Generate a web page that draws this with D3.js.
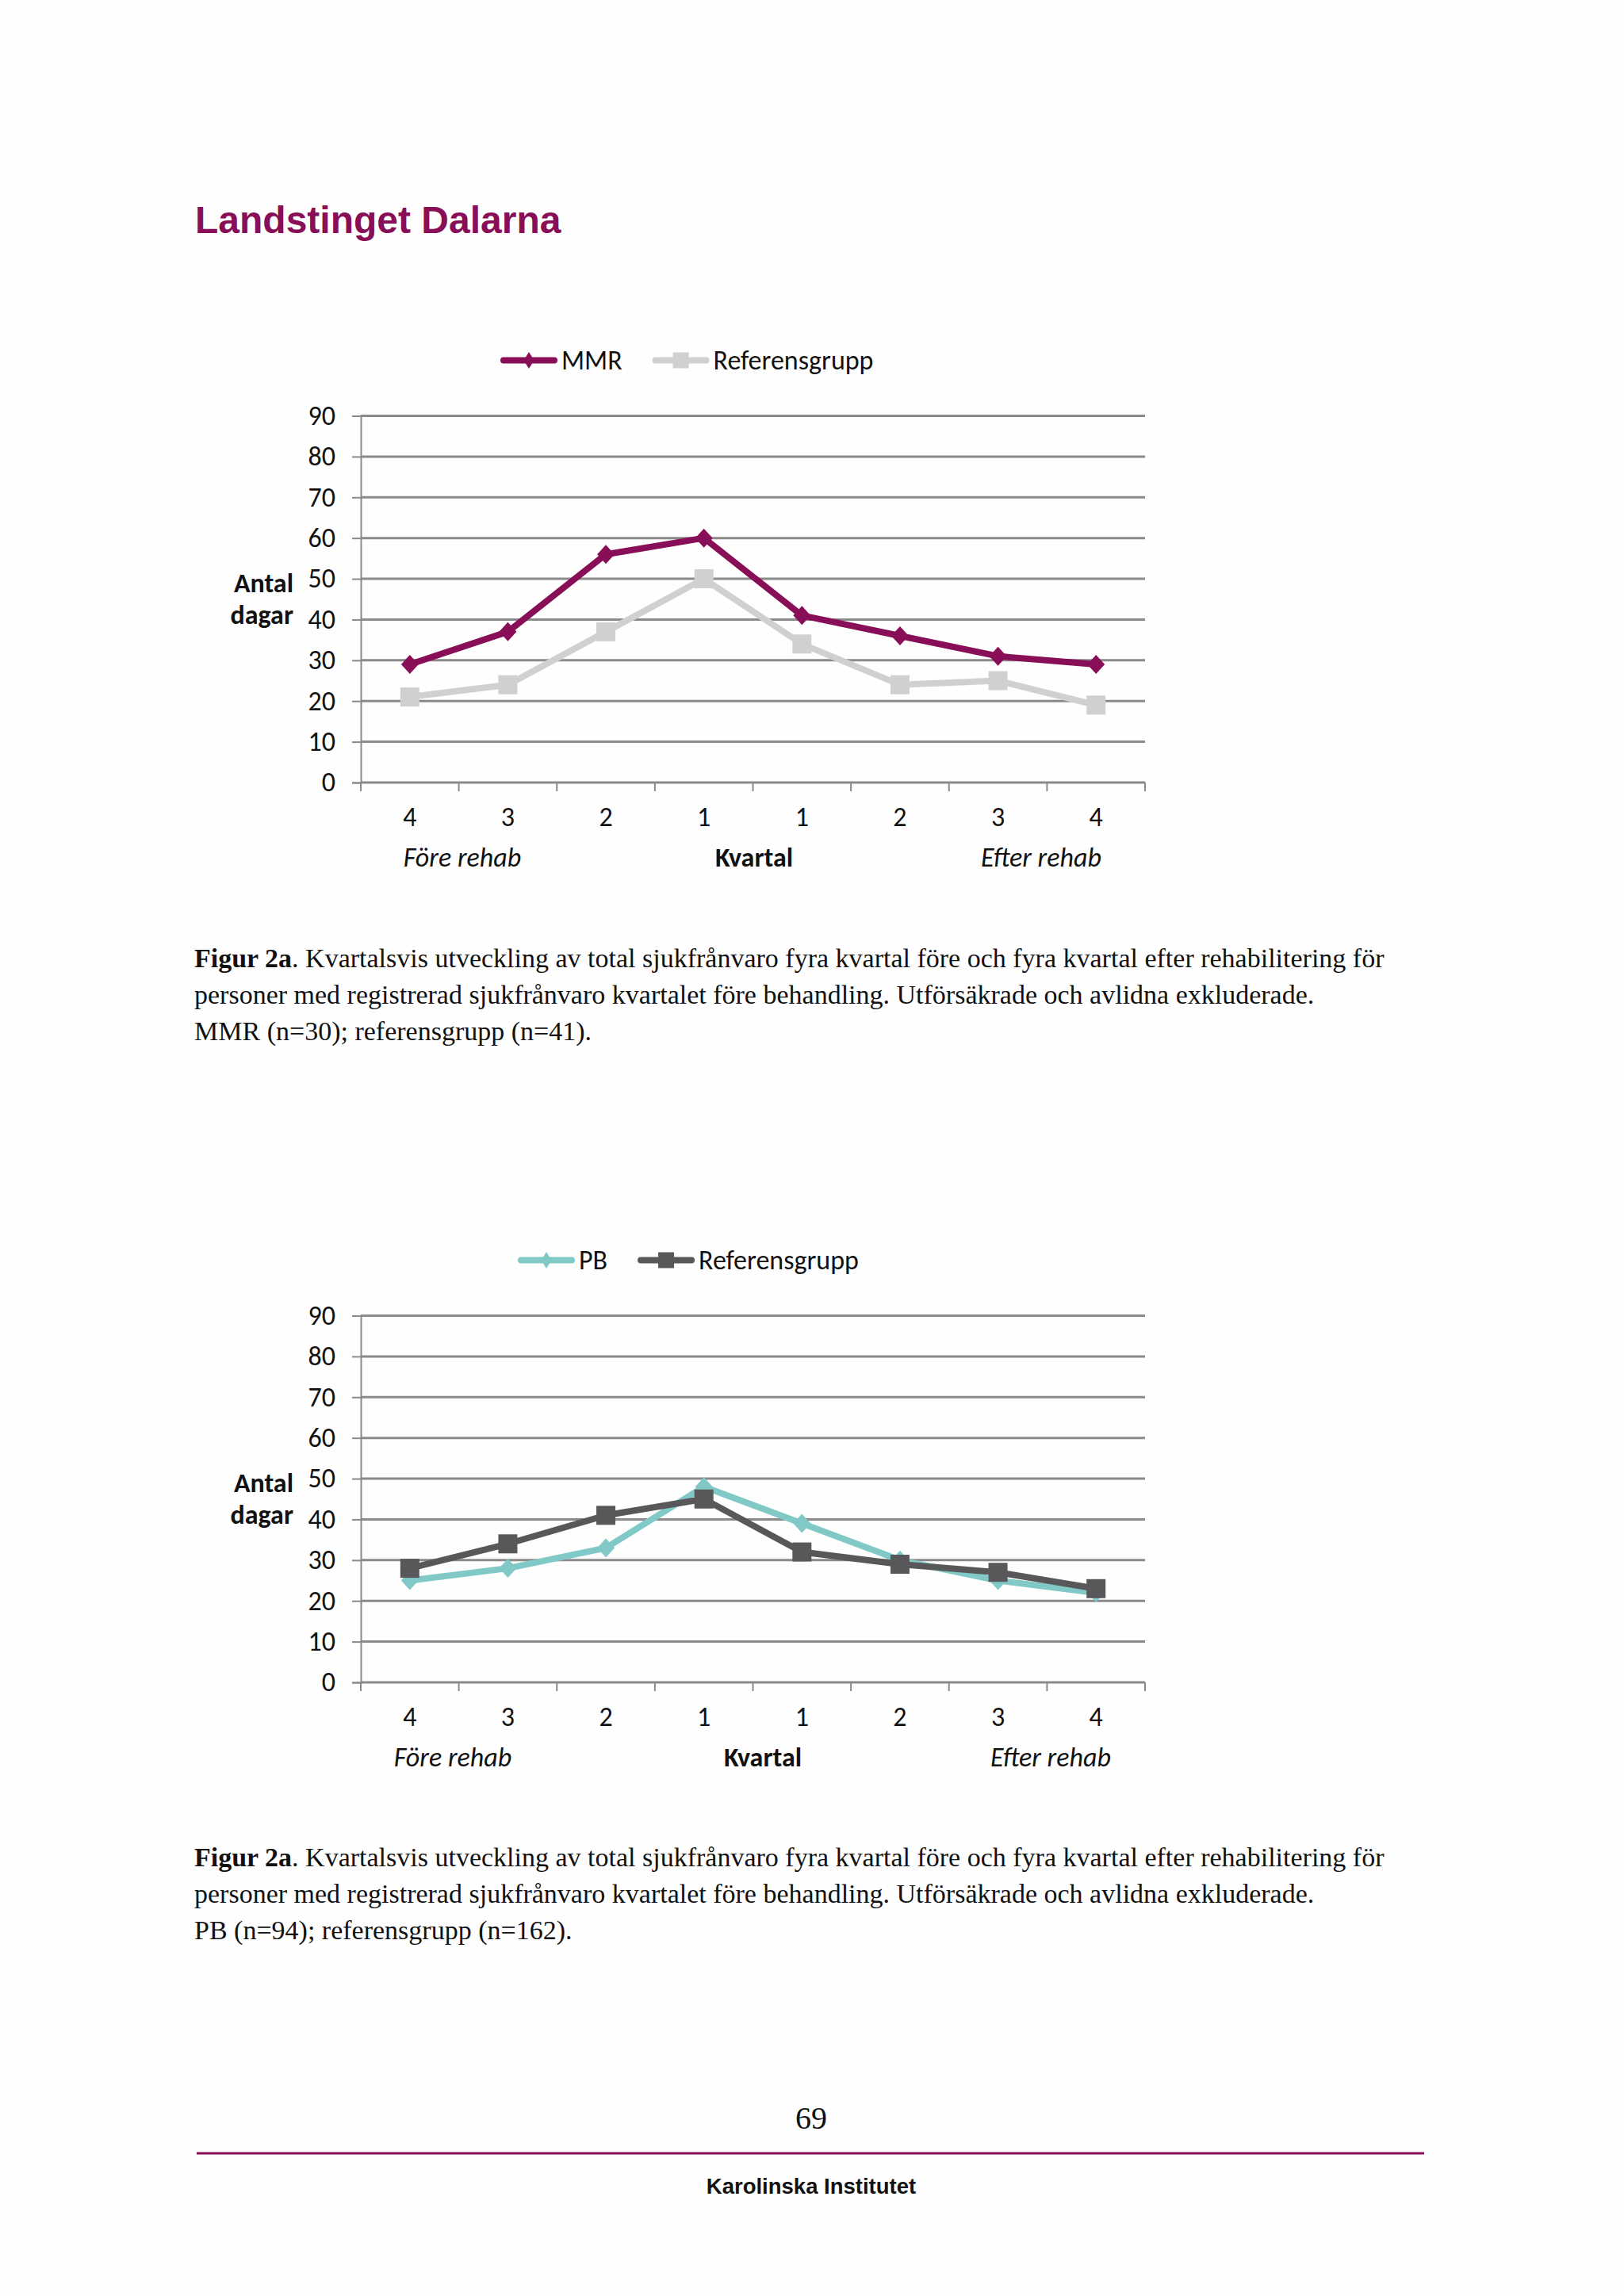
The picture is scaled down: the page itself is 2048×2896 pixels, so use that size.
<!DOCTYPE html>
<html>
<head>
<meta charset="utf-8">
<script src="https://cdn.jsdelivr.net/npm/d3@7"></script>
<style>
  body { margin: 0; background: #ffffff; }
  svg { display: block; }
</style>
</head>
<body>
<svg id="page"></svg>
<script>
// quarters before (F) and after (E) rehab
const quarterKeys = ["F4", "F3", "F2", "F1", "E1", "E2", "E3", "E4"];
const quarterLabels = ["4", "3", "2", "1", "1", "2", "3", "4"];
const yTicks = [0, 10, 20, 30, 40, 50, 60, 70, 80, 90];

// chart 1
const mmrValues = [29, 37, 56, 60, 41, 36, 31, 29];
const mmrRefValues = [21, 24, 37, 50, 34, 24, 25, 19];
// chart 2
const pbValues = [25, 28, 33, 48, 39, 30, 25, 22];
const pbRefValues = [28, 34, 41, 45, 32, 29, 27, 23];

const W = 2048, H = 2896;
const svg = d3.select("#page").attr("width", W).attr("height", H);
svg.append("rect").attr("width", W).attr("height", H).attr("fill", "#fefefe");

const sans = "Carlito, Lato, 'Open Sans', sans-serif";
const serif = "'Liberation Serif', 'DejaVu Serif', serif";
const arial = "'Liberation Sans', Arial, sans-serif";
const accent = "#880e57";
const fs = 34;

svg.append("text")
  .attr("x", 246).attr("y", 294)
  .attr("font-family", arial).attr("font-weight", "bold")
  .attr("font-size", 48).attr("fill", accent)
  .text("Landstinget Dalarna");

const xScale = d3.scaleBand()
  .domain(quarterKeys)
  .range([455, 1444]);

const diamond = (w, h) => `M0,${-h / 2}L${w / 2},0L0,${h / 2}L${-w / 2},0Z`;
const square = s => `M${-s / 2},${-s / 2}h${s}v${s}h${-s}Z`;

const drawChart = (top, series, legendX) => {
  // top = y position of the 90 gridline
  const g = svg.append("g");
  const yScale = d3.scaleLinear()
    .domain([0, 90])
    .range([top + 462.5, top]);

  /* gridlines + y axis */
  const yAxis = d3.axisLeft(yScale)
    .tickValues(yTicks)
    .tickSize(11)
    .tickPadding(21);
  const ya = g.append("g")
    .attr("transform", `translate(${xScale.range()[0]},0)`)
    .call(yAxis);
  ya.select(".domain").attr("stroke", "#8a8a8a").attr("stroke-width", 2);
  ya.selectAll(".tick line").attr("stroke", "#8a8a8a").attr("stroke-width", 2);
  ya.selectAll(".tick text")
    .attr("font-family", sans).attr("font-size", fs).attr("fill", "#111");

  g.append("g")
    .selectAll("line")
    .data(yTicks)
    .join("line")
      .attr("x1", xScale.range()[0])
      .attr("x2", xScale.range()[1])
      .attr("y1", d => yScale(d))
      .attr("y2", d => yScale(d))
      .attr("stroke", "#8a8a8a")
      .attr("stroke-width", 3);

  /* x axis: ticks between categories */
  const boundaries = d3.range(quarterKeys.length + 1)
    .map(i => xScale.range()[0] + i * xScale.step());
  g.append("g")
    .selectAll("line")
    .data(boundaries)
    .join("line")
      .attr("x1", d => d).attr("x2", d => d)
      .attr("y1", yScale(0)).attr("y2", yScale(0) + 11)
      .attr("stroke", "#8a8a8a").attr("stroke-width", 2);

  g.append("g")
    .selectAll("text")
    .data(quarterKeys)
    .join("text")
      .attr("x", d => xScale(d) + xScale.bandwidth() / 2)
      .attr("y", yScale(0) + 55)
      .attr("text-anchor", "middle")
      .attr("font-family", sans).attr("font-size", fs).attr("fill", "#111")
      .text((d, i) => quarterLabels[i]);

  /* axis titles */
  const axisText = g.append("g")
    .attr("font-family", sans).attr("font-size", fs).attr("fill", "#111");
  axisText.append("text")
    .attr("x", 370).attr("y", yScale(0) - 240)
    .attr("text-anchor", "end").attr("font-weight", "bold")
    .text("Antal");
  axisText.append("text")
    .attr("x", 370).attr("y", yScale(0) - 200)
    .attr("text-anchor", "end").attr("font-weight", "bold")
    .text("dagar");
  axisText.append("text")
    .attr("x", series.labelX[0]).attr("y", yScale(0) + 106)
    .attr("text-anchor", "middle").attr("font-style", "italic")
    .text("Före rehab");
  axisText.append("text")
    .attr("x", series.labelX[1]).attr("y", yScale(0) + 106)
    .attr("text-anchor", "middle").attr("font-weight", "bold")
    .text("Kvartal");
  axisText.append("text")
    .attr("x", series.labelX[2]).attr("y", yScale(0) + 106)
    .attr("text-anchor", "middle").attr("font-style", "italic")
    .text("Efter rehab");

  /* lines + markers */
  const line = d3.line()
    .x((d, i) => xScale(quarterKeys[i]) + xScale.bandwidth() / 2)
    .y(d => yScale(d));

  series.items.forEach(s => {
    g.append("path")
      .datum(s.values)
      .attr("d", line)
      .attr("fill", "none")
      .attr("stroke", s.color)
      .attr("stroke-width", 8)
      .attr("stroke-linejoin", "round");
    g.append("g")
      .selectAll("path")
      .data(s.values)
      .join("path")
        .attr("transform", (d, i) => `translate(${xScale(quarterKeys[i]) + xScale.bandwidth() / 2},${yScale(d)})`)
        .attr("d", s.marker === "diamond" ? diamond(22, 24) : square(24))
        .attr("fill", s.color);
  });

  /* legend */
  const legendY = top - 70;
  let lx = legendX;
  series.items.forEach(s => {
    const item = g.append("g").attr("transform", `translate(${lx},${legendY})`);
    item.append("line")
      .attr("x1", 4).attr("x2", 68)
      .attr("stroke", s.color).attr("stroke-width", 8)
      .attr("stroke-linecap", "round");
    item.append("path")
      .attr("transform", "translate(36,0)")
      .attr("d", s.marker === "diamond" ? diamond(13, 21) : square(20))
      .attr("fill", s.color);
    const t = item.append("text")
      .attr("x", 77).attr("y", 11)
      .attr("font-family", sans).attr("font-size", fs).attr("fill", "#111")
      .text(s.name);
    lx += 77 + t.node().getComputedTextLength() + 38;
  });
};

drawChart(524.5, {
  labelX: [583, 951, 1313],
  items: [
    { name: "MMR", values: mmrValues, color: "#880e57", marker: "diamond" },
    { name: "Referensgrupp", values: mmrRefValues, color: "#d0d0d1", marker: "square" }
  ]
}, 631);

drawChart(1659.5, {
  labelX: [571, 962, 1325],
  items: [
    { name: "PB", values: pbValues, color: "#80c9c6", marker: "diamond" },
    { name: "Referensgrupp", values: pbRefValues, color: "#58585a", marker: "square" }
  ]
}, 653);

/* captions */
const captions = [
  { y: 1220, group: "MMR (n=30); referensgrupp (n=41)." },
  { y: 2354, group: "PB (n=94); referensgrupp (n=162)." }
];
captions.forEach(c => {
  const t = svg.append("g")
    .attr("font-family", serif).attr("font-size", 34).attr("fill", "#111");
  const l1 = t.append("text").attr("x", 245).attr("y", c.y);
  l1.append("tspan").attr("font-weight", "bold").text("Figur 2a");
  l1.append("tspan").text(". Kvartalsvis utveckling av total sjukfrånvaro fyra kvartal före och fyra kvartal efter rehabilitering för");
  t.append("text").attr("x", 245).attr("y", c.y + 46)
    .text("personer med registrerad sjukfrånvaro kvartalet före behandling. Utförsäkrade och avlidna exkluderade.");
  t.append("text").attr("x", 245).attr("y", c.y + 92).text(c.group);
});

/* footer */
svg.append("text")
  .attr("x", 1023).attr("y", 2685)
  .attr("text-anchor", "middle")
  .attr("font-family", serif).attr("font-size", 40).attr("fill", "#111")
  .text("69");
svg.append("line")
  .attr("x1", 248).attr("x2", 1796)
  .attr("y1", 2716).attr("y2", 2716)
  .attr("stroke", accent).attr("stroke-width", 3);
svg.append("text")
  .attr("x", 1023).attr("y", 2767)
  .attr("text-anchor", "middle")
  .attr("font-family", arial).attr("font-weight", "bold")
  .attr("font-size", 27.5).attr("fill", "#111")
  .text("Karolinska Institutet");
</script>
</body>
</html>
